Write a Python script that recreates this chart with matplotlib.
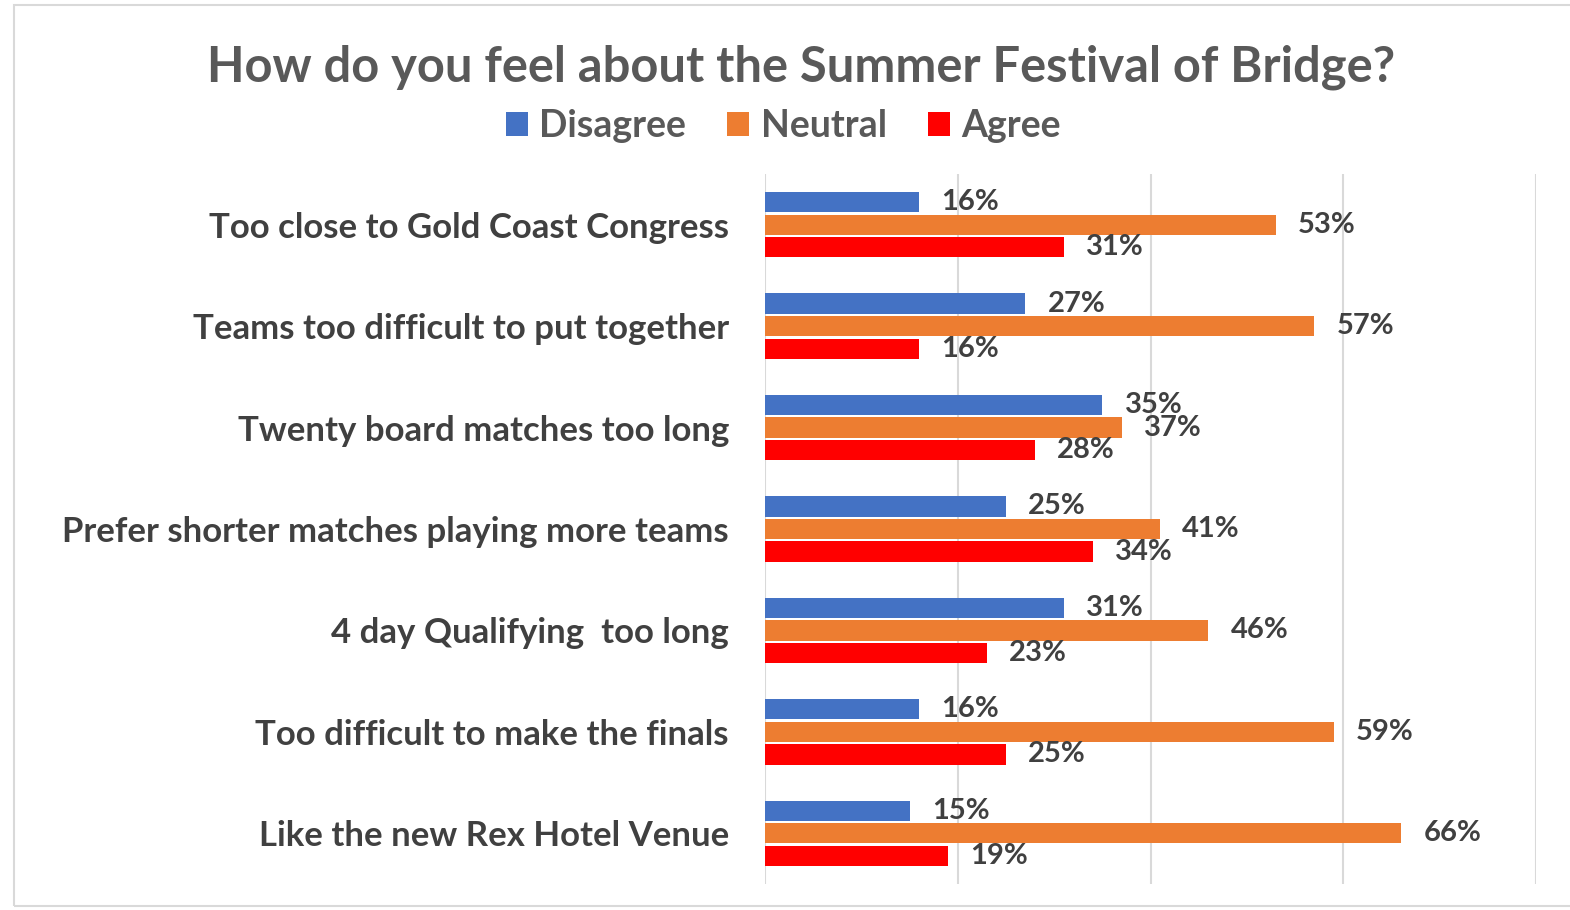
import matplotlib
matplotlib.use("Agg")
import matplotlib.pyplot as plt
import numpy as np
from matplotlib.patches import Rectangle, Patch

plt.rcParams['font.family'] = ['Lato', 'DejaVu Sans']
plt.rcParams['font.weight'] = 'bold'

categories = ["Too close to Gold Coast Congress",
              "Teams too difficult to put together",
              "Twenty board matches too long",
              "Prefer shorter matches playing more teams",
              "4 day Qualifying  too long",
              "Too difficult to make the finals",
              "Like the new Rex Hotel Venue"]
disagree = [16, 27, 35, 25, 31, 16, 15]
neutral = [53, 57, 37, 41, 46, 59, 66]
agree = [31, 16, 28, 34, 23, 25, 19]

series_names = ["Disagree", "Neutral", "Agree"]
colors = ["#4472C4", "#ED7D31", "#FF0000"]

fig = plt.figure(figsize=(15.7, 9.1), dpi=100)
fig.patches.append(Rectangle((14 / 1570, 0.004), 1.0, 0.99, transform=fig.transFigure,
                             fill=False, edgecolor="#d9d9d9", linewidth=1.5))

ax = fig.add_axes([765 / 1570, 26 / 910, (1536 - 765) / 1570, (884 - 174) / 910])

y = np.arange(len(categories))
pitch = 0.222
h = 0.2
for k, (vals, col) in enumerate(zip([disagree, neutral, agree], colors)):
    pos = y + (k - 1) * pitch
    ax.barh(pos, vals, height=h, color=col, zorder=3)
    for p, v in zip(pos, vals):
        ax.annotate(f"{v}%", (v, p), xytext=(16, 0), textcoords="offset points",
                    va="center", ha="left", fontsize=21, color="#404040",
                    fontweight="bold")

ax.set_xlim(0, 80)
ax.set_ylim(len(categories) - 0.5, -0.5)
ax.set_xticks([0, 20, 40, 60, 80])
ax.set_xticklabels([])
ax.tick_params(axis="x", length=0)
ax.grid(axis="x", color="#d9d9d9", linewidth=1.5, zorder=0)
ax.set_yticks(y)
ax.set_yticklabels(categories, fontsize=25, color="#404040", fontweight="bold")
ax.tick_params(axis="y", length=0, pad=26)
for s in ax.spines.values():
    s.set_visible(False)

fig.text(0.510, 0.926, "How do you feel about the Summer Festival of Bridge?",
         ha="center", va="center", fontsize=35.2, color="#595959", fontweight="bold")

handles = [Patch(facecolor=c) for c in colors]
fig.legend(handles, series_names, loc="center", bbox_to_anchor=(0.499, 0.861), ncol=3,
           frameon=False, labelcolor="#595959", handlelength=0.59,
           handleheight=0.59, handletextpad=0.3, columnspacing=1.1,
           prop={'weight': 'bold', 'size': 27})

fig.savefig("out.png", dpi=100)
